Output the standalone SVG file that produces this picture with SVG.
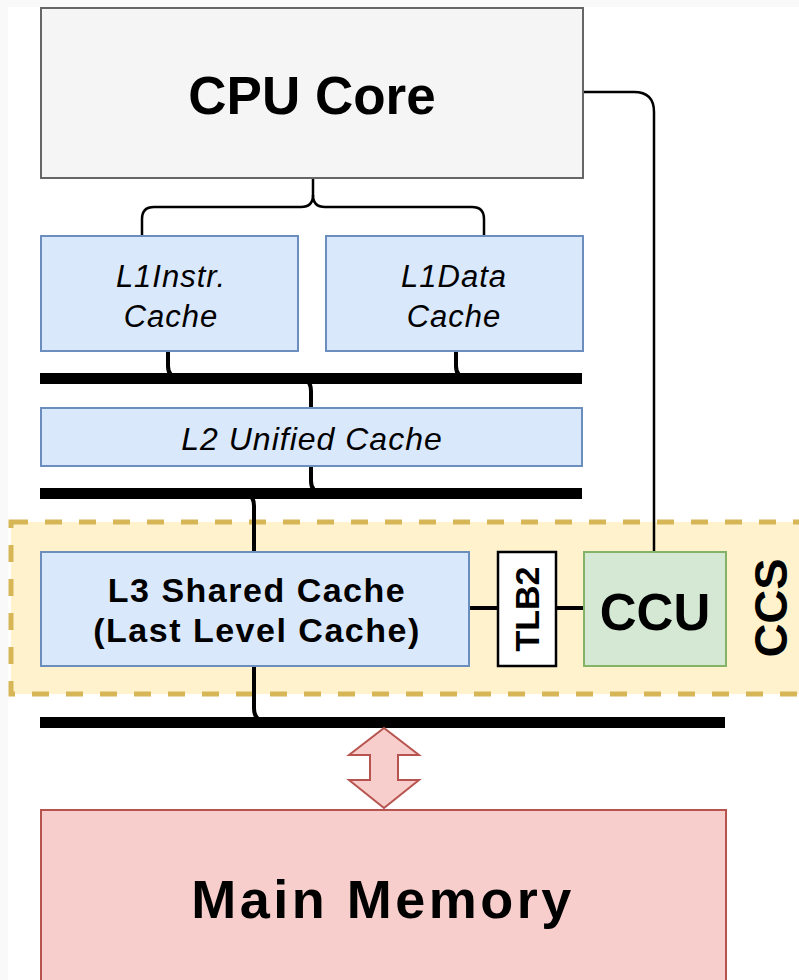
<svg xmlns="http://www.w3.org/2000/svg" width="799" height="980" viewBox="0 0 799 980">
<style>
.box{stroke-width:2}
.blue{fill:#dae8fc;stroke:#6c8ebf}
.gray{fill:#f5f5f5;stroke:#666666}
.green{fill:#d5e8d4;stroke:#82b366}
.red{fill:#f8cecc;stroke:#b85450}
.t{font-family:"Liberation Sans",Arial,sans-serif;fill:#000;text-anchor:middle}
.b{font-weight:bold}
.i{font-style:italic}
.wire{fill:none;stroke:#000;stroke-width:4}
.thin{fill:none;stroke:#000;stroke-width:2.5}
.bus{fill:#000}
</style>
<rect x="0" y="0" width="799" height="980" fill="#f9f9f9"/>
<rect x="8" y="7" width="791" height="973" fill="#ffffff"/>

<g id="ccs">
<rect x="11" y="522" width="800" height="172" fill="#fff2cc" stroke="#d6b656" stroke-width="5" stroke-dasharray="17 17"/>
<text class="t b" font-size="47" transform="translate(787,608) rotate(-90)">CCS</text>
</g>

<g id="connectors">
<path class="thin" d="M313 178 V195 Q313 207 301 207 H154 Q142 207 142 219 V236"/>
<path class="thin" d="M313 195 Q313 207 325 207 H472 Q484 207 484 219 V236"/>
<path class="thin" d="M583 92 H634 Q654 92 654 112 V552"/>
<path class="wire" d="M168 351 V366 Q168 378 180 378"/>
<path class="wire" d="M456 351 V366 Q456 378 468 378"/>
<path class="wire" d="M298 378 Q311 378 311 391 V408"/>
<path class="wire" d="M311 466 V481 Q311 493 323 493"/>
<path class="wire" d="M241 493 Q254 493 254 506 V552"/>
<path class="wire" d="M254 666 V708 Q254 722 268 722"/>
<path class="wire" d="M469 608 H498"/>
<path class="wire" d="M556 608 H584"/>
<rect class="bus" x="40" y="373" width="542" height="11"/>
<rect class="bus" x="40" y="488" width="542" height="11"/>
<rect class="bus" x="40" y="717" width="685" height="11"/>
<polygon points="384,728 419,755 398,755 398,780 419,780 384,808 349,780 370,780 370,755 349,755" fill="#f8cecc" stroke="#b85450" stroke-width="2"/>
</g>

<g id="cpu">
<rect class="box gray" x="41" y="8" width="542" height="170"/>
<text class="t b" x="312" y="114" font-size="53">CPU Core</text>
</g>

<g id="l1i">
<rect class="box blue" x="41" y="236" width="257" height="115"/>
<text class="t i" x="171" y="287" font-size="31" letter-spacing="1">L1Instr.</text>
<text class="t i" x="171" y="327" font-size="31" letter-spacing="1">Cache</text>
</g>

<g id="l1d">
<rect class="box blue" x="326" y="236" width="257" height="115"/>
<text class="t i" x="454" y="287" font-size="31" letter-spacing="1">L1Data</text>
<text class="t i" x="454" y="327" font-size="31" letter-spacing="1">Cache</text>
</g>

<g id="l2">
<rect class="box blue" x="41" y="408" width="541" height="58"/>
<text class="t i" x="312" y="450" font-size="32" letter-spacing="1">L2 Unified Cache</text>
</g>

<g id="l3">
<rect class="box blue" x="41" y="552" width="428" height="114"/>
<text class="t b" x="257" y="602" font-size="34" letter-spacing="1.5">L3 Shared Cache</text>
<text class="t b" x="257" y="642" font-size="34" letter-spacing="1.5">(Last Level Cache)</text>
</g>

<g id="tlb2">
<rect x="498" y="552" width="58" height="114" fill="#ffffff" stroke="#000" stroke-width="2.5"/>
<text class="t b" font-size="34" transform="translate(539,609) rotate(-90)">TLB2</text>
</g>

<g id="ccu">
<rect class="box green" x="584" y="552" width="142" height="114"/>
<text class="t b" x="655" y="630" font-size="51">CCU</text>
</g>

<g id="memory">
<rect class="box red" x="41" y="810" width="685" height="200"/>
<text class="t b" x="383" y="918" font-size="54" letter-spacing="3.5">Main Memory</text>
</g>
</svg>
